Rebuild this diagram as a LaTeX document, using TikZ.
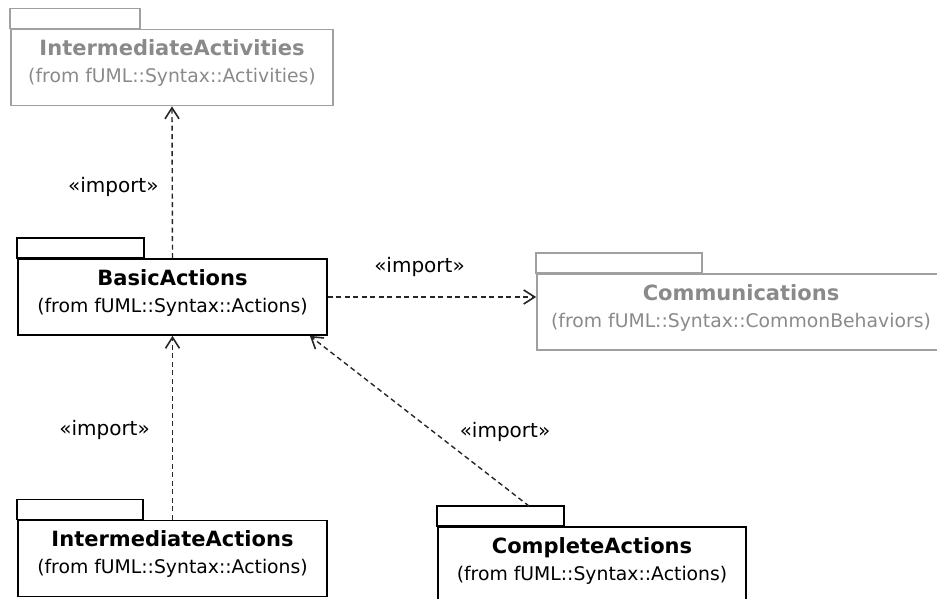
\documentclass[tikz,border=0pt]{standalone}
\usepackage{fontspec}
\setmainfont{DejaVu Sans}
\usetikzlibrary{arrows.meta,positioning}
\definecolor{pkggray}{HTML}{A0A0A0}
\definecolor{txtgray}{HTML}{8A8A8A}

\begin{document}
\begin{tikzpicture}[x=1pt,y=1pt, font=\fontsize{18.8}{22}\selectfont,
  pkg/.style={draw, line width=1.7pt, inner sep=0pt, minimum height=76pt},
  faint/.style={draw=pkggray},
  imp/.style={dash pattern=on 5pt off 3.5pt, line width=1.4pt, draw=black!85,
    -{Straight Barb[length=11pt,width=14pt,line width=1.6pt]}},
  implabel/.style={font=\fontsize{20}{24}\selectfont, inner sep=2pt}]
\useasboundingbox (0,0) rectangle (937,599);

% package bodies
\node[pkg, faint, minimum width=322pt] (ia) at (172,531.5) {};
\node[pkg, minimum width=309pt] (ba) at (172.5,302) {};
\node[pkg, faint, minimum width=408pt] (com) at (741,287) {};
\node[pkg, minimum width=309pt] (iact) at (172.5,40.5) {};
\node[pkg, minimum width=308pt] (ca) at (592,34) {};

% tabs
\foreach \n/\w/\c in {ia/130/pkggray,ba/127/black,com/166/pkggray,iact/126/black,ca/127/black}
\draw[line width=1.7pt, draw=\c] (\n.north west) rectangle ++(\w,20);

% names
\foreach \n/\t/\f/\c in {ia/IntermediateActivities/Activities/txtgray,
  ba/BasicActions/Actions/black, com/Communications/CommonBehaviors/txtgray,
  iact/IntermediateActions/Actions/black, ca/CompleteActions/Actions/black}{
\node[anchor=base, text=\c, font=\fontsize{21}{24}\selectfont\bfseries] (\n-t) at ([yshift=-27]\n.north) {\t};
\node[anchor=base, text=\c] (\n-f) at ([yshift=-54]\n.north) {(from fUML::Syntax::\f)};
}

% imports
\coordinate (ca-in) at ([shift={(92,20)}]ca.north west);
\coordinate (ba-in) at ([xshift=-18]ba.south east);
\draw[imp] (ba.north) -- (ia.south) node[implabel, pos=.47, left=11pt] (l1) {«import»};
\draw[imp] (ba.east) -- (ba.east -| com.west) node[implabel, pos=.44, above=18pt] (l2) {«import»};
\draw[imp] (iact.north) -- (ba.south) node[implabel, pos=.49, left=20pt] (l3) {«import»};
\draw[imp] (ca-in) -- (ba-in);
\node[implabel] (l4) at (505,167) {«import»};

\end{tikzpicture}
\end{document}
